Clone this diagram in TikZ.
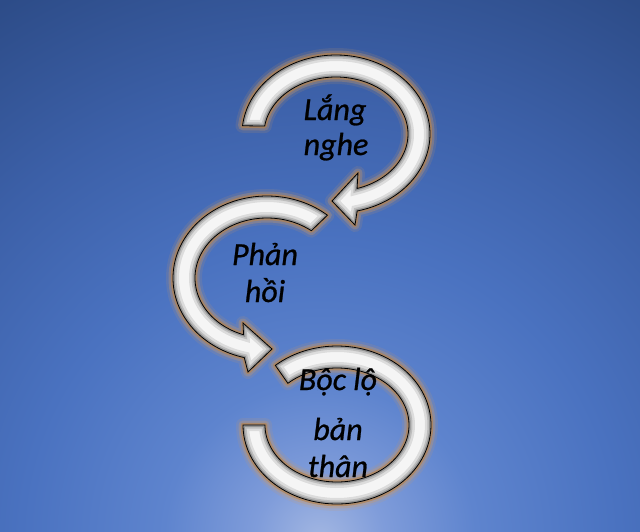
\documentclass[tikz,border=0pt]{standalone}
\usepackage{fontspec}
\setmainfont{Carlito}
\begin{document}
\definecolor{bgA}{HTML}{A3B7E2}
\definecolor{bgB}{HTML}{7F9CDA}
\definecolor{bgC}{HTML}{5E84CE}
\definecolor{bgD}{HTML}{4A72C0}
\definecolor{bgE}{HTML}{3C60A8}
\definecolor{bgF}{HTML}{2D4C88}
\definecolor{glowc}{HTML}{D09A60}
\definecolor{glowd}{HTML}{B8844C}
\definecolor{bandc}{HTML}{F5F5F5}
\pgfdeclareradialshading{bgsh}{\pgfpoint{0bp}{0bp}}{color(0bp)=(bgA); color(2.5bp)=(bgB); color(6bp)=(bgC); color(11.5bp)=(bgD); color(17.5bp)=(bgE); color(24bp)=(bgF); color(25bp)=(bgF); color(50bp)=(bgF)}
\tikzset{
  glowA/.style={draw=glowc, line width=14pt, opacity=0.14, line join=round},
  glowB/.style={draw=glowc, line width=9pt, opacity=0.30, line join=round},
  glowC/.style={draw=glowd, line width=4.5pt, opacity=0.65, line join=round},
  bevA/.style={draw=black, line width=12pt, opacity=0.10},
  bevB/.style={draw=black, line width=7pt, opacity=0.14},
  bevC/.style={draw=black, line width=3.5pt, opacity=0.22},
  outl/.style={draw=black, line width=0.8pt, line join=miter},
  lbl/.style={text=black, inner sep=0pt, anchor=base, font=\fontsize{32}{38}\selectfont\itshape\addfontfeature{FakeBold=0.8}}
}
\newcommand\ringarrow[1]{%
  \path[glowA] #1;
  \path[glowB] #1;
  \path[glowC] #1;
  \fill[bandc] #1;
  \begin{scope}
    \clip #1;
    \path[bevA] #1;
    \path[bevB] #1;
    \path[bevC] #1;
  \end{scope}
  \path[outl] #1;
}
\begin{tikzpicture}[x=1pt,y=-1pt]
\useasboundingbox (0,0) rectangle (640,531);
\begin{scope}
  \clip (0,0) rectangle (640,531);
  \shade[shading=bgsh] (320,540) circle[radius=650pt];
\end{scope}
% arrow 1 (top)
\ringarrow{({336+94*cos(174)},{134-79*sin(174)}) -- plot[domain=174:-77,samples=90] ({336+94*cos(\x)},{134-79*sin(\x)}) -- (355,225) -- (332,201) -- (358,173) -- plot[domain=-73:172,samples=90] ({336+72*cos(\x)},{134-57*sin(\x)}) -- cycle}
% arrow 2 (middle)
\ringarrow{({267+94*cos(50)},{278-82*sin(50)}) -- plot[domain=50:256,samples=90] ({267+94*cos(\x)},{278-82*sin(\x)}) -- (248,372) -- (272,349) -- (243,323) -- plot[domain=251:52,samples=90] ({267+72*cos(\x)},{278-60*sin(\x)}) -- cycle}
% arrow 3 (bottom)
\ringarrow{({337+94*cos(131)},{425-79*sin(131)}) -- plot[domain=131:-180,samples=110] ({337+94*cos(\x)},{425-79*sin(\x)}) -- plot[domain=-180:133,samples=110] ({337+72*cos(\x)},{425-57*sin(\x)}) -- cycle}
% labels
\node[lbl] (t1a) at (335,120) {Lắng};
\node[lbl] (t1b) at (336,155) {nghe};
\node[lbl] (t2a) at (265,265) {Phản};
\node[lbl] (t2b) at (265,302) {hồi};
\node[lbl] (t3a) at (338,390) {Bộc lộ};
\node[lbl] (t3b) at (338,440) {bản};
\node[lbl] (t3c) at (338,477) {thân};
\end{tikzpicture}
\end{document}
